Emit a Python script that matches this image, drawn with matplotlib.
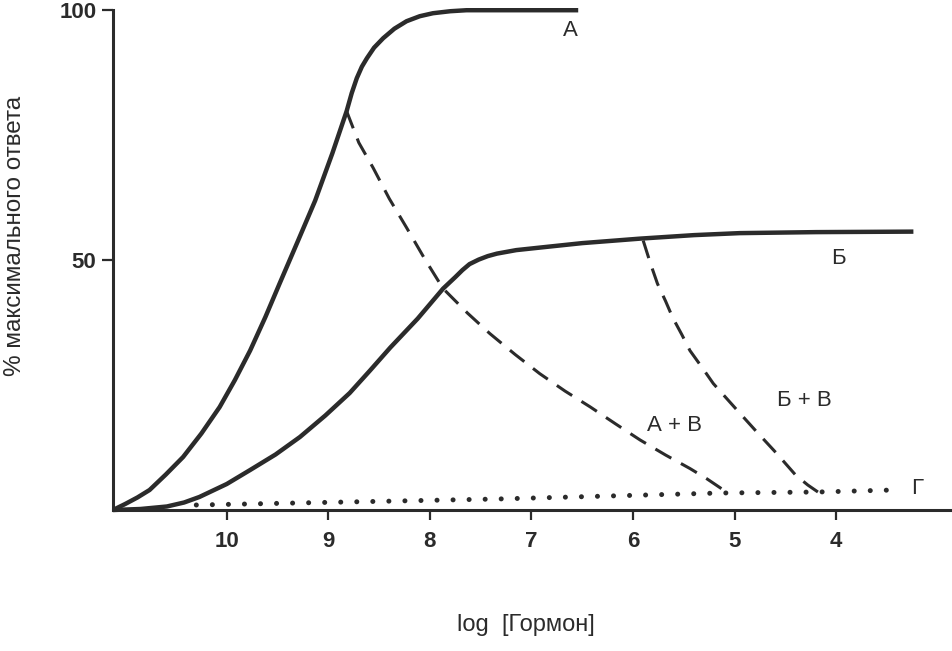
import numpy as np
import matplotlib
matplotlib.use("Agg")
import matplotlib.pyplot as plt

plt.rcParams['font.family'] = ['Liberation Sans', 'DejaVu Sans']

# кривая А
a_x = [11.12, 11.00, 10.88, 10.76, 10.60, 10.43, 10.25, 10.07, 9.92, 9.77, 9.62, 9.48, 9.30, 9.13,
       8.96, 8.82, 8.77, 8.72, 8.67, 8.62, 8.55, 8.46, 8.35, 8.23, 8.10, 7.97, 7.80,
       7.64, 7.31, 6.54]
a_y = [0, 1.2, 2.5, 4.0, 7.1, 10.6, 15.3, 20.6, 26.0, 31.9, 38.6, 45.3, 53.8, 61.9,
       71.4, 79.8, 83.4, 86.4, 88.7, 90.4, 92.5, 94.4, 96.3, 97.8, 98.8, 99.4, 99.8,
       100, 100, 100]

# кривая Б
b_x = [11.12, 10.85, 10.59, 10.42, 10.27, 10.0, 9.77, 9.52, 9.28, 9.03, 8.79, 8.59, 8.39,
       8.12, 7.87, 7.75, 7.68, 7.61, 7.52, 7.43, 7.34, 7.15, 6.92, 6.50, 5.93, 5.40,
       4.95, 4.20, 3.24]
b_y = [0, 0.2, 0.7, 1.5, 2.6, 5.2, 8.0, 11.1, 14.6, 18.9, 23.4, 27.9, 32.5,
       38.3, 44.3, 46.6, 48.0, 49.2, 50.1, 50.8, 51.3, 52.0, 52.5, 53.4, 54.3, 55.0,
       55.4, 55.6, 55.7]

# А + В
ab_x = [8.82, 8.70, 8.56, 8.40, 8.23, 8.05, 7.87, 7.63, 7.41, 7.16, 6.92, 6.67, 6.42,
        6.17, 5.93, 5.68, 5.44, 5.27, 5.11]
ab_y = [79.8, 73.5, 68.5, 62.3, 56.5, 50.2, 44.3, 39.4, 35.3, 31.1, 27.3, 23.8, 20.6,
        17.2, 14.0, 11.0, 8.3, 6.2, 4.0]

# Б + В
bv_x = [5.90, 5.83, 5.76, 5.68, 5.61, 5.52, 5.44, 5.32, 5.21, 5.10, 4.99, 4.79, 4.59,
        4.40, 4.28, 4.18]
bv_y = [53.9, 49.4, 45.3, 41.8, 38.5, 35.1, 31.9, 28.5, 25.3, 22.8, 20.3, 15.8, 11.4,
        7.0, 5.0, 3.6]

# Г
g_x = [10.30, 7.34, 5.14, 4.18, 3.44]
g_y = [1.0, 2.2, 3.4, 3.6, 4.0]

x_ticks = [10, 9, 8, 7, 6, 5, 4]
y_ticks = [50, 100]

ink = '#2b2b2b'

fig = plt.figure(figsize=(9.52, 6.51), dpi=100)
ax = fig.add_axes([0.1187, 0.2166, 0.8813, 0.7700])

ax.plot(a_x, a_y, color=ink, lw=3.2, solid_capstyle='butt', solid_joinstyle='round', clip_on=False)
ax.plot(b_x, b_y, color=ink, lw=3.2, solid_capstyle='butt', solid_joinstyle='round', clip_on=False)
ax.plot(ab_x, ab_y, color=ink, lw=2.2, linestyle=(0, (6, 3.6)), clip_on=False)
ax.plot(bv_x, bv_y, color=ink, lw=2.2, linestyle=(0, (6, 3.6)), clip_on=False)
ax.plot(g_x, g_y, color=ink, lw=3.6, linestyle=(0, (0.01, 3.2)), dash_capstyle='round', clip_on=False)

ax.set_xlim(11.12, 2.86)
ax.set_ylim(0, 100.3)

for s in ['top', 'right']:
    ax.spines[s].set_visible(False)
for s in ['left', 'bottom']:
    ax.spines[s].set_linewidth(2.2)
    ax.spines[s].set_color(ink)
ax.spines['left'].set_bounds(0, 100)

ax.set_xticks(x_ticks)
ax.set_xticklabels([str(t) for t in x_ticks])
ax.set_yticks(y_ticks)
ax.set_yticklabels([str(t) for t in y_ticks])
ax.tick_params(axis='x', direction='out', length=7, width=1.6, color=ink, pad=8,
               labelsize=16, labelcolor=ink)
ax.tick_params(axis='y', direction='out', length=8, width=1.6, color=ink, pad=4,
               labelsize=16, labelcolor=ink)
for lab in ax.get_xticklabels() + ax.get_yticklabels():
    lab.set_fontweight('bold')

fig.text(526 / 952, 1 - 625 / 651, 'log  [Гормон]', fontsize=17, color=ink,
         ha='center', va='center')
fig.text(15 / 952, 1 - 236 / 651, '% максимального ответа', fontsize=17.5, color=ink,
         ha='center', va='center', rotation=90)

ax.text(6.62, 96, 'А', fontsize=16, color=ink, ha='center', va='center')
ax.text(3.98, 50.3, 'Б', fontsize=16, color=ink, ha='center', va='center')
ax.text(5.59, 17, 'А + В', fontsize=16, color=ink, ha='center', va='center')
ax.text(4.31, 22, 'Б + В', fontsize=16, color=ink, ha='center', va='center')
ax.text(3.2, 4.4, 'Г', fontsize=16, color=ink, ha='center', va='center')

fig.savefig('out.png', dpi=100, facecolor='white')
